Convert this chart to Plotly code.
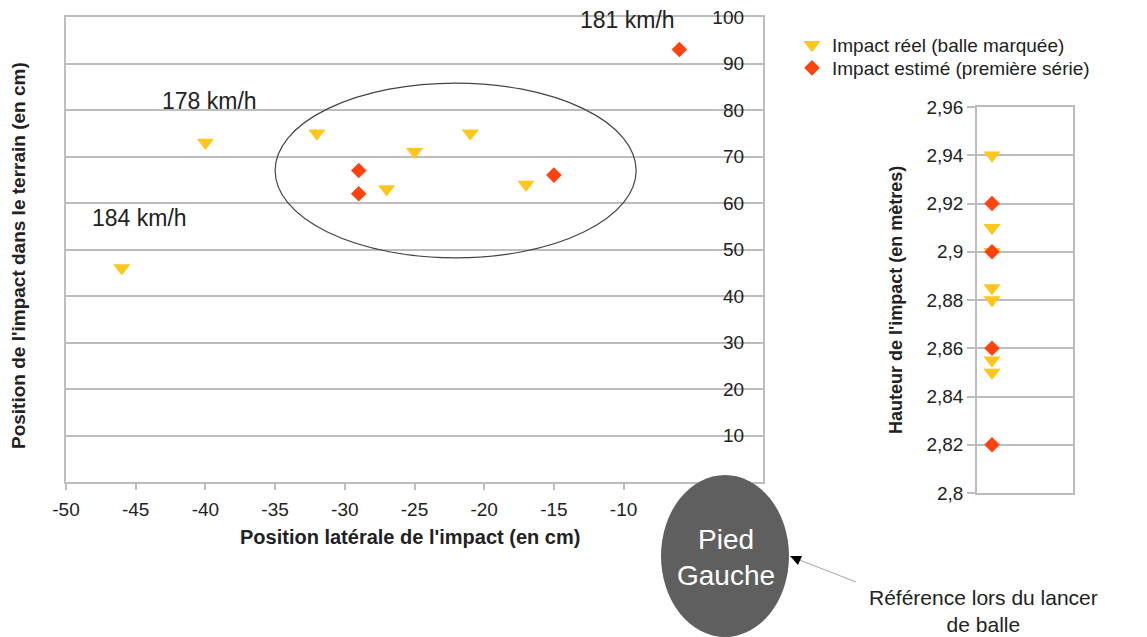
import plotly.graph_objects as go

# ---- data ----
real_x = [-46, -40, -32, -27, -25, -21, -17]
real_y = [46, 73, 75, 63, 71, 75, 64]
est_x = [-29, -29, -15, -6]
est_y = [67, 62, 66, 93]
real_h = [2.94, 2.91, 2.90, 2.885, 2.88, 2.855, 2.85]
est_h = [2.92, 2.90, 2.86, 2.82]
x_ticks = [-50, -45, -40, -35, -30, -25, -20, -15, -10]
x_labels = ["-50", "-45", "-40", "-35", "-30", "-25", "-20", "-15", "-10"]
y_ticks = [10, 20, 30, 40, 50, 60, 70, 80, 90, 100]
h_ticks = [2.80, 2.82, 2.84, 2.86, 2.88, 2.90, 2.92, 2.94, 2.96]
h_labels = ["2,8", "2,82", "2,84", "2,86", "2,88", "2,9", "2,92", "2,94", "2,96"]
speed_labels = ["181 km/h", "178 km/h", "184 km/h"]
speed_pos = [(-9.7, 99.4), (-39.7, 81.9), (-44.7, 56.8)]
name_real = "Impact réel (balle marquée)"
name_est = "Impact estimé (première série)"

W, H = 1147, 637
OFF = 8  # page body margin
def px(x, y):
    return (x - OFF) / W, 1 - (y - OFF) / H

YEL = "#FFC61E"
RED = "#FF420E"
GRID = "#bdbdbd"
TXT = "#222222"
FONT = "Liberation Sans, Arial, sans-serif"

fig = go.Figure()
fig.add_trace(go.Scatter(x=real_x, y=real_y, mode="markers", name=name_real, legend="legend",
                         marker=dict(symbol="triangle-down", size=15, color=YEL),
                         xaxis="x", yaxis="y"))
fig.add_trace(go.Scatter(x=est_x, y=est_y, mode="markers", name=name_est, legend="legend2",
                         marker=dict(symbol="diamond", size=12, color=RED),
                         xaxis="x", yaxis="y"))
fig.add_trace(go.Scatter(x=[1] * len(real_h), y=real_h, mode="markers", showlegend=False,
                         marker=dict(symbol="triangle-down", size=15, color=YEL),
                         xaxis="x2", yaxis="y2"))
fig.add_trace(go.Scatter(x=[1] * len(est_h), y=est_h, mode="markers", showlegend=False,
                         marker=dict(symbol="diamond", size=12, color=RED),
                         xaxis="x2", yaxis="y2"))

x0, y1 = px(66, 17)
x1, y0 = px(763, 482)
x20, y21 = px(977, 107)
x21, y20 = px(1073, 493)

shapes = [
    dict(type="circle", xref="x", yref="y", x0=-35, x1=-9.1, y0=48.2, y1=85.8,
         line=dict(color="#444444", width=1.2), layer="above"),
]
ex0, ey1 = px(661, 475)
ex1, ey0 = px(789, 637)
shapes.append(dict(type="circle", xref="paper", yref="paper", x0=ex0, x1=ex1, y0=ey0, y1=ey1,
                   fillcolor="#5f5f5f", line=dict(width=0), layer="above"))
ax0, ay0 = px(856, 582)
ax1, ay1 = px(797, 559)
shapes.append(dict(type="line", xref="paper", yref="paper", x0=ax0, y0=ay0, x1=ax1, y1=ay1,
                   line=dict(color="#b0b0b0", width=1.2), layer="above"))
p1 = px(790, 556); p2 = px(802, 556); p3 = px(798, 565)
shapes.append(dict(type="path", xref="paper", yref="paper",
                   path=f"M {p1[0]},{p1[1]} L {p2[0]},{p2[1]} L {p3[0]},{p3[1]} Z",
                   fillcolor="#000000", line=dict(width=0), layer="above"))

def ann(text, x, y, size, color=TXT, angle=0):
    ax_, ay_ = px(x, y)
    return dict(text=text, x=ax_, y=ay_, xref="paper", yref="paper", showarrow=False,
                xanchor="center", yanchor="middle", textangle=angle,
                font=dict(size=size, color=color, family=FONT))

annotations = []
for t, (sx, sy) in zip(speed_labels, speed_pos):
    annotations.append(dict(text=t, x=sx, y=sy, xref="x", yref="y", showarrow=False,
                            xanchor="center", yanchor="middle",
                            font=dict(size=23, color=TXT, family=FONT)))
annotations.append(ann("<b>Position latérale de l'impact (en cm)</b>", 410, 537, 20))
annotations.append(ann("<b>Position de l'impact dans le terrain (en cm)</b>", 18, 256, 19, angle=-90))
annotations.append(ann("<b>Hauteur de l'impact (en mètres)</b>", 896, 300, 18, angle=-90))
annotations.append(ann("Pied<br>Gauche", 726, 557, 28, color="white"))
annotations.append(ann("Référence lors du lancer<br>de balle", 983, 611, 21))

lx, ly1 = px(792, 45)
_, ly2 = px(792, 68)
leg_common = dict(xanchor="left", yanchor="middle", bgcolor="rgba(0,0,0,0)",
                  font=dict(size=19, color=TXT, family=FONT), itemwidth=30)
fig.update_layout(
    width=W, height=H,
    margin=dict(l=0, r=0, t=0, b=0),
    paper_bgcolor="white", plot_bgcolor="white",
    font=dict(family=FONT, color=TXT),
    showlegend=True,
    legend=dict(x=lx, y=ly1, **leg_common),
    legend2=dict(x=lx, y=ly2, **leg_common),
    xaxis=dict(domain=[x0, x1], range=[-50, 0], tickvals=x_ticks, ticktext=x_labels,
               showgrid=False, automargin=False,
               zeroline=False, showline=True, mirror=True, linecolor=GRID, linewidth=1.5,
               ticks="outside", ticklen=6, tickcolor=GRID, tickwidth=1.5,
               ticklabelstandoff=3,
               tickfont=dict(size=19, color=TXT, family=FONT), anchor="y"),
    yaxis=dict(domain=[y0, y1], range=[0, 100], tickvals=y_ticks, side="right",
               ticklabelposition="inside", ticklabeloverflow="allow", ticks="",
               showgrid=True, gridcolor=GRID, automargin=False,
               gridwidth=1.5, zeroline=False, showline=True, mirror=True, linecolor=GRID,
               linewidth=1.5, ticklabelstandoff=20,
               tickfont=dict(size=19, color=TXT, family=FONT), anchor="x"),
    xaxis2=dict(domain=[x20, x21], range=[0, 6.4], showticklabels=False, showgrid=False,
                zeroline=False, showline=True, mirror=True, linecolor=GRID, linewidth=1.5,
                ticks="", anchor="y2", automargin=False),
    yaxis2=dict(domain=[y20, y21], range=[2.8, 2.96], tickvals=h_ticks, ticktext=h_labels,
                showgrid=True, gridcolor=GRID, gridwidth=1.5, zeroline=False, showline=True,
                mirror=True, linecolor=GRID, linewidth=1.5, ticks="outside", ticklen=8,
                tickcolor=GRID, tickwidth=1.5, automargin=False,
                tickfont=dict(size=19, color=TXT, family=FONT), anchor="x2"),
    shapes=shapes,
    annotations=annotations,
)

fig.write_html("out.html")
